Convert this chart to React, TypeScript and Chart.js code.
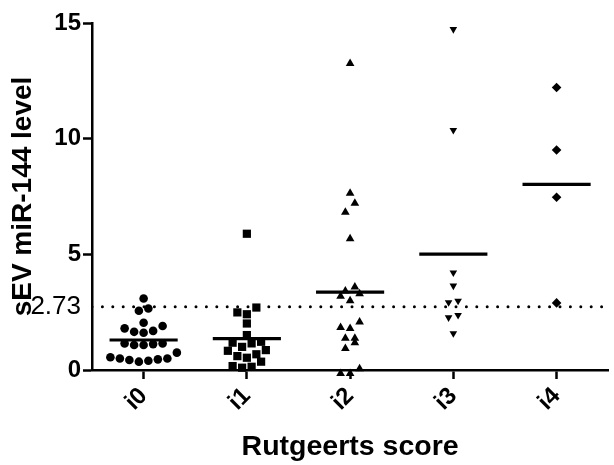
import React, { useEffect, useRef } from "react";
import { Chart, registerables } from "chart.js";

Chart.register(...registerables);

const categories = ["i0", "i1", "i2", "i3", "i4"];

const i0Values = [3.09, 2.66, 2.56, 1.9, 1.69, 1.61, 1.65, 1.8, 2.04, 1.15, 1.08, 1.08, 1.12, 1.15, 0.55, 0.5, 0.43, 0.36, 0.4, 0.46, 0.5, 0.75];
const i1Values = [5.89, 2.7, 2.49, 2.41, 2.01, 1.51, 1.18, 1.0, 1.15, 1.22, 0.83, 0.86, 0.6, 0.53, 0.68, 0.36, 0.17, 0.1, 0.14];
const i2Values = [13.25, 7.64, 7.21, 6.82, 5.67, 3.59, 3.41, 3.3, 3.19, 2.99, 2.08, 1.79, 1.84, 1.37, 1.18, 1.37, 0.93, 0.05, -0.15, -0.15];
const i3Values = [14.73, 10.37, 4.21, 3.64, 2.92, 2.99, 2.37, 2.27, 1.58];
const i4Values = [12.21, 9.51, 7.47, 2.9];

const yTickValues = [0, 2.73, 5, 10, 15];
const thresholdValue = 2.73;

const yAxisTitle = "sEV miR-144 level";
const xAxisTitle = "Rutgeerts score";

const groups = [i0Values, i1Values, i2Values, i3Values, i4Values];
const pointStyles = ["circle", "rect", "triangle", "triangle", "rectRot"];
const pointRotations = [0, 0, 0, 180, 0];
const pointRadii = [4.3, 5.8, 5, 4.4, 4.8];

const FONT = "'Liberation Sans', Arial, Helvetica, sans-serif";
const ROW_BIN = 0.4;
const X_STEP = 0.092;
const MEAN_HALF = 0.33;

function swarm(values: number[], center: number) {
  const sorted = [...values].sort((a, b) => a - b);
  const rows: number[][] = [];
  let cur: number[] = [];
  for (const v of sorted) {
    if (cur.length && v - cur[0] > ROW_BIN) {
      rows.push(cur);
      cur = [];
    }
    cur.push(v);
  }
  if (cur.length) rows.push(cur);
  const pts: { x: number; y: number }[] = [];
  for (const row of rows) {
    const n = row.length;
    const slots = Array.from({ length: n }, (_, k) => k - (n - 1) / 2);
    slots.sort((a, b) => Math.abs(a) - Math.abs(b) || a - b);
    row.forEach((v, k) => pts.push({ x: center + slots[k] * X_STEP, y: v }));
  }
  return pts;
}

function mean(values: number[]) {
  return values.reduce((s, v) => s + v, 0) / values.length;
}

export default function App() {
  const ref = useRef<HTMLCanvasElement | null>(null);

  useEffect(() => {
    if (!ref.current) return;
    const datasets: any[] = [];
    groups.forEach((vals, i) => {
      datasets.push({
        data: swarm(vals, i),
        pointStyle: pointStyles[i],
        rotation: pointRotations[i],
        pointRadius: pointRadii[i],
        backgroundColor: "#000",
        borderColor: "#000",
        borderWidth: 0,
        clip: false,
        order: 0,
      });
    });
    groups.forEach((vals, i) => {
      const m = mean(vals);
      datasets.push({
        data: [
          { x: i - MEAN_HALF, y: m },
          { x: i + MEAN_HALF, y: m },
        ],
        showLine: true,
        borderColor: "#000",
        borderWidth: 3.2,
        pointRadius: 0,
        order: 1,
      });
    });
    datasets.push({
      data: [
        { x: -0.5, y: thresholdValue },
        { x: categories.length - 0.5, y: thresholdValue },
      ],
      showLine: true,
      borderColor: "#000",
      borderWidth: 3,
      borderDash: [0, 10.4],
      borderCapStyle: "round",
      pointRadius: 0,
      order: 2,
    });

    const chart = new Chart(ref.current, {
      type: "scatter",
      data: { datasets },
      options: {
        animation: false,
        responsive: false,
        devicePixelRatio: 1,
        layout: { padding: { top: 23, left: 0, right: 0, bottom: 0 } },
        plugins: { legend: { display: false }, tooltip: { enabled: false } },
        scales: {
          x: {
            type: "linear",
            min: -0.5,
            max: categories.length - 0.5,
            afterBuildTicks: (scale: any) => {
              scale.ticks = categories.map((_, i) => ({ value: i }));
            },
            afterFit: (scale: any) => {
              scale.height = 95;
            },
            ticks: {
              autoSkip: false,
              minRotation: 45,
              maxRotation: 45,
              padding: 3,
              color: "#000",
              font: { family: FONT, size: 24, weight: "bold" },
              callback: (v: any) => categories[Math.round(Number(v))] ?? "",
            },
            grid: {
              drawOnChartArea: false,
              drawTicks: true,
              tickLength: 9,
              tickWidth: 2.5,
              tickColor: "#000",
            },
            border: { display: true, color: "#000", width: 2.5 },
            title: {
              display: true,
              text: xAxisTitle,
              color: "#000",
              font: { family: FONT, size: 28.5, weight: "bold" },
              padding: { top: 0, bottom: 1 },
            },
          },
          y: {
            type: "linear",
            min: 0,
            max: 15,
            afterBuildTicks: (scale: any) => {
              scale.ticks = yTickValues.map((v) => ({ value: v }));
            },
            afterFit: (scale: any) => {
              scale.width = 92;
            },
            ticks: {
              autoSkip: false,
              padding: 2,
              color: "#000",
              font: (ctx: any) =>
                ctx.tick && ctx.tick.value === thresholdValue
                  ? { family: FONT, size: 26, weight: "normal" }
                  : { family: FONT, size: 24, weight: "bold" },
              callback: (v: any) => String(v),
            },
            grid: {
              drawOnChartArea: false,
              drawTicks: true,
              tickLength: 9,
              tickWidth: 2.5,
              tickColor: (ctx: any) =>
                ctx.tick && ctx.tick.value === thresholdValue ? "rgba(0,0,0,0)" : "#000",
            },
            border: { display: true, color: "#000", width: 2.5 },
            title: {
              display: true,
              text: yAxisTitle,
              color: "#000",
              font: { family: FONT, size: 28, weight: "bold" },
              padding: { top: 6, bottom: 0 },
            },
          },
        },
      } as any,
    });
    return () => chart.destroy();
  }, []);

  return (
    <div style={{ position: "fixed", left: 0, top: 0, width: 614, height: 465, background: "#fff" }}>
      <canvas ref={ref} width={614} height={465} />
    </div>
  );
}
